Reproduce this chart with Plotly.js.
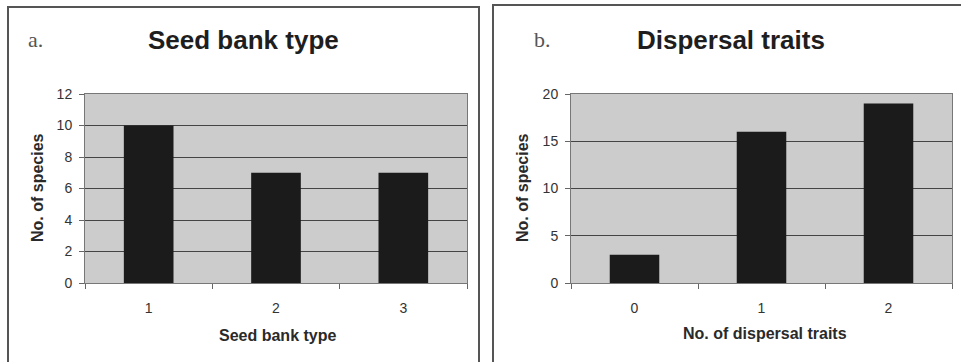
<!DOCTYPE html>
<html>
<head>
<meta charset="utf-8">
<script src="https://cdn.plot.ly/plotly-3.0.1.min.js"></script>
<style>html,body{margin:0;padding:0;background:#fff;}#chart{width:961px;height:362px;}</style>
</head>
<body>
<div id="chart"></div>
<script>
// Panel a: seed bank type
const seedBankCategories = ["1", "2", "3"];
const seedBankSpecies = [10, 7, 7];
const seedBankTicks = [0, 2, 4, 6, 8, 10, 12];

// Panel b: dispersal traits
const dispersalCategories = ["0", "1", "2"];
const dispersalSpecies = [3, 16, 19];
const dispersalTicks = [0, 5, 10, 15, 20];

const barColor = "#1b1b1b";
const plotBg = "#cccccc";
const gridColor = "#444444";
const tickFont = {family: "Arial, Liberation Sans, sans-serif", size: 14, color: "#333333"};
const axisTitleFont = {family: "Arial, Liberation Sans, sans-serif", size: 16, color: "#2a2a2a", weight: "bold"};
const titleFont = {family: "Arial, Liberation Sans, sans-serif", size: 26, color: "#1e1e1e", weight: "bold"};
const letterFont = {family: "Times New Roman, Liberation Serif, serif", size: 22, color: "#555555"};

const traces = [
  {type: "bar", x: seedBankCategories, y: seedBankSpecies, xaxis: "x", yaxis: "y",
   marker: {color: barColor, line: {width: 0}}, hoverinfo: "skip"},
  {type: "bar", x: dispersalCategories, y: dispersalSpecies, xaxis: "x2", yaxis: "y2",
   marker: {color: barColor, line: {width: 0}}, hoverinfo: "skip"}
];

function xAxis(domain, anchor) {
  return {domain: domain, anchor: anchor, type: "category", showgrid: false,
    ticks: "outside", tickson: "boundaries", ticklen: 5, tickcolor: "#666",
    showline: true, linecolor: "#777", linewidth: 1, mirror: true,
    tickfont: tickFont, ticklabelstandoff: 12, zeroline: false, fixedrange: true};
}
function yAxis(domain, anchor, range, ticks) {
  return {domain: domain, anchor: anchor, range: range, tickvals: ticks,
    ticks: "outside", ticklen: 5, tickcolor: "#666",
    showline: true, linecolor: "#777", linewidth: 1, mirror: true,
    showgrid: true, gridcolor: gridColor, gridwidth: 1, zeroline: false,
    tickfont: tickFont, ticklabelstandoff: 4, fixedrange: true};
}

const yDom = [1 - 283/362, 1 - 94/362];

const layout = {
  width: 961, height: 362,
  margin: {l: 0, r: 0, t: 0, b: 0},
  paper_bgcolor: "#ffffff", plot_bgcolor: plotBg,
  showlegend: false, bargap: 0.61,
  xaxis: xAxis([85/961, 467/961], "y"),
  yaxis: yAxis(yDom, "x", [0, 12], seedBankTicks),
  xaxis2: xAxis([571/961, 952/961], "y2"),
  yaxis2: yAxis(yDom, "x2", [0, 20], dispersalTicks),
  shapes: [
    {type: "rect", xref: "paper", yref: "paper", x0: 8/961, x1: 479/961, y0: -0.02, y1: 1 - 7/362,
     line: {color: "#555", width: 2}, fillcolor: "rgba(0,0,0,0)", layer: "below"},
    {type: "rect", xref: "paper", yref: "paper", x0: 493/961, x1: 1.02, y0: -0.02, y1: 1 - 5/362,
     line: {color: "#555", width: 2}, fillcolor: "rgba(0,0,0,0)", layer: "below"}
  ],
  annotations: [
    {text: "a.", xref: "paper", yref: "paper", x: 26/961, y: 1 - 40/362, xanchor: "left", yanchor: "middle", showarrow: false, font: letterFont},
    {text: "Seed bank type", xref: "paper", yref: "paper", x: 243/961, y: 1 - 40/362, xanchor: "center", yanchor: "middle", showarrow: false, font: titleFont},
    {text: "b.", xref: "paper", yref: "paper", x: 532/961, y: 1 - 40/362, xanchor: "left", yanchor: "middle", showarrow: false, font: letterFont},
    {text: "Dispersal traits", xref: "paper", yref: "paper", x: 731/961, y: 1 - 40/362, xanchor: "center", yanchor: "middle", showarrow: false, font: titleFont},
    {text: "No. of species", xref: "paper", yref: "paper", x: 37/961, y: 1 - 188/362, xanchor: "center", yanchor: "middle", textangle: -90, showarrow: false, font: axisTitleFont},
    {text: "No. of species", xref: "paper", yref: "paper", x: 522/961, y: 1 - 188/362, xanchor: "center", yanchor: "middle", textangle: -90, showarrow: false, font: axisTitleFont},
    {text: "Seed bank type", xref: "paper", yref: "paper", x: 277/961, y: 1 - 335/362, xanchor: "center", yanchor: "middle", showarrow: false, font: axisTitleFont},
    {text: "No. of dispersal traits", xref: "paper", yref: "paper", x: 765/961, y: 1 - 333/362, xanchor: "center", yanchor: "middle", showarrow: false, font: axisTitleFont}
  ]
};

Plotly.newPlot("chart", traces, layout, {displayModeBar: false, staticPlot: true});
</script>
</body>
</html>
